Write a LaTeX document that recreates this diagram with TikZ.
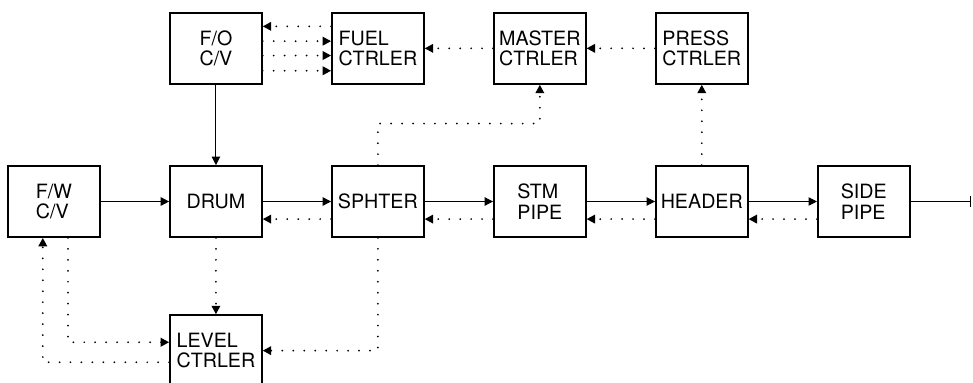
\documentclass[tikz,border=0pt]{standalone}
\usepackage{fontspec}
\setmainfont{TeX Gyre Heros}
\usetikzlibrary{arrows.meta, positioning}

\begin{document}
\begin{tikzpicture}[
        node distance=1.71cm,
        block/.style={draw, line width=1.1pt, minimum width=2.3cm, minimum height=1.78cm,
            align=left, inner sep=2pt, font=\fontsize{14}{14.5}\selectfont}
    ]

    \tikzset{
    flow/.style={-{Triangle[length=6pt, width=6pt]}, line width=0.7pt},
    ctrl/.style={-{Triangle[length=6pt, width=6pt]}, line width=1.4pt, line cap=round, dash pattern=on 0pt off 7.8pt}
}

    \useasboundingbox (-1.35,-4.5125) rectangle (22.975,5.0375);

    \node[block] (fw) at (0,0) {F/W\\C/V};
    \node[block] (drum) [right=of fw] {DRUM};
    \node[block] (sphter) [right=of drum] {SPHTER};
    \node[block] (stm) [right=of sphter] {STM\\PIPE};
    \node[block] (header) [right=of stm] {HEADER};
    \node[block] (side) [right=of header] {SIDE\\PIPE};
    \coordinate[right=1.5cm of side.east] (out);

    \node[block] (fo) [above=2.01cm of drum] {F/O\\C/V};
    \node[block] (fuel) [above=2.01cm of sphter] {FUEL\\CTRLER};
    \node[block] (master) [above=2.01cm of stm] {MASTER\\CTRLER};
    \node[block] (press) [above=2.01cm of header] {PRESS\\CTRLER};
    \node[block] (level) [below=1.91cm of drum] {LEVEL\\CTRLER};

    \draw[flow] (fw) -- (drum);
    \draw[flow] (drum) -- (sphter);
    \draw[flow] (sphter) -- (stm);
    \draw[flow] (stm) -- (header);
    \draw[flow] (header) -- (side);
    \draw[flow] (fo) -- (drum);
    \draw[line width=0.7pt] (side) -- (out);
    \draw[line width=1.3pt] ([yshift=0.13cm]out) -- ([yshift=-0.13cm]out);

    \draw[ctrl] ([yshift=-0.44cm]sphter.west) -- ([yshift=-0.44cm]drum.east);
    \draw[ctrl] ([yshift=-0.44cm]stm.west) -- ([yshift=-0.44cm]sphter.east);
    \draw[ctrl] ([yshift=-0.44cm]header.west) -- ([yshift=-0.44cm]stm.east);
    \draw[ctrl] ([yshift=-0.44cm]side.west) -- ([yshift=-0.44cm]header.east);

    \draw[ctrl] ([yshift=0.55cm]fuel.west) -- ([yshift=0.55cm]fo.east);
    \foreach \dy in {0.18,-0.18,-0.56}
        \draw[ctrl] ([yshift=\dy cm]fo.east) -- ([yshift=\dy cm]fuel.west);
    \draw[ctrl] (master) -- (fuel);
    \draw[ctrl] (press) -- (master);
    \draw[ctrl] (sphter.north) -- ++(0,1.04) -| (master.south);
    \draw[ctrl] (header) -- (press);

    \draw[ctrl] (drum) -- (level);
    \draw[ctrl] (sphter.south) |- (level.east);
    \draw[ctrl] ([xshift=0.35cm]fw.south) |- ([yshift=0.21cm]level.west);
    \draw[ctrl] ([yshift=-0.29cm]level.west) -| ([xshift=-0.28cm]fw.south);
    \end{tikzpicture}
\end{document}
